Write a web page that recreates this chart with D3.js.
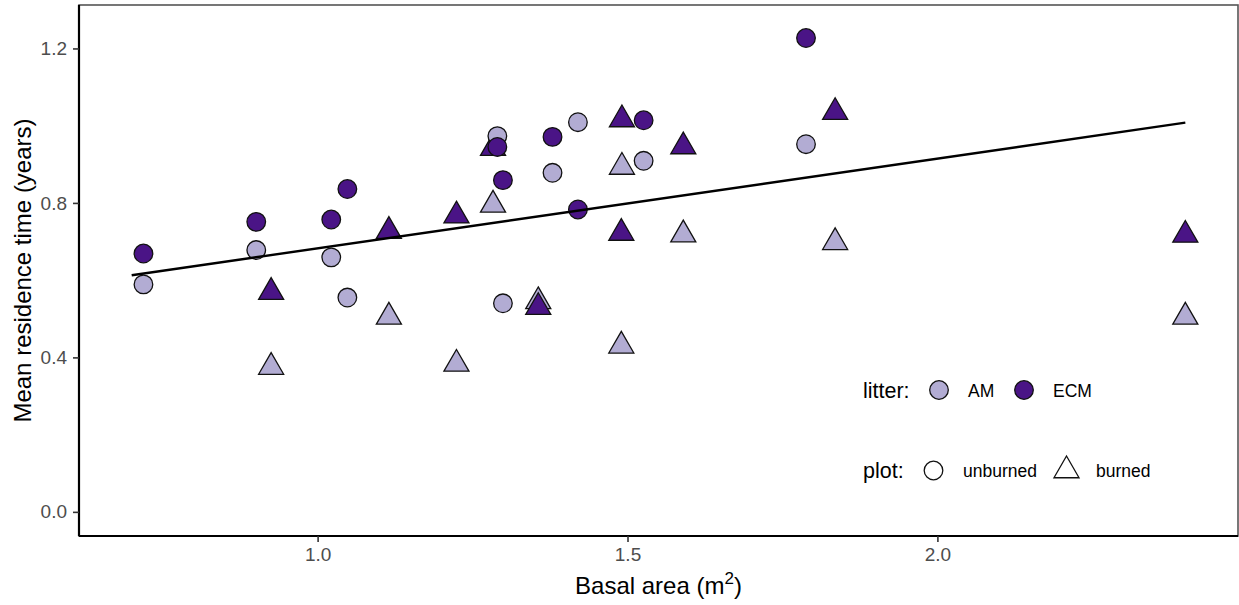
<!DOCTYPE html>
<html>
<head>
<meta charset="utf-8">
<script src="https://cdn.jsdelivr.net/npm/d3@7/dist/d3.min.js"></script>
<style>
  html, body { margin: 0; padding: 0; background: #ffffff; }
  svg { display: block; font-family: "Liberation Sans", Arial, sans-serif; }
</style>
</head>
<body>
<svg id="chart" width="1239" height="605"></svg>
<script>
// Basal area (m^2) of each plot, with mean residence time (years) for AM and ECM litter
const basalUnburned = [0.719, 0.901, 1.022, 1.048, 1.290, 1.299, 1.379, 1.420, 1.526, 1.788];
const amUnburned    = [0.589, 0.678, 0.659, 0.555, 0.973, 0.540, 0.878, 1.009, 0.909, 0.952];
const ecmUnburned   = [0.669, 0.751, 0.757, 0.836, 0.945, 0.859, 0.971, 0.783, 1.014, 1.227];

const basalBurned = [0.925, 1.115, 1.224, 1.283, 1.356, 1.491, 1.490, 1.590, 1.835, 2.400];
const amBurned    = [0.375, 0.505, 0.383, 0.795, 0.545, 0.893, 0.430, 0.718, 0.698, 0.505];
const ecmBurned   = [0.569, 0.727, 0.767, 0.942, 0.530, 1.016, 0.722, 0.946, 1.035, 0.717];

// Linear fit across all plots
const fitIntercept = 0.450;
const fitSlope = 0.2324;
const fitRange = [0.70, 2.40];

const xTicks = [1.0, 1.5, 2.0];
const yTicks = [0.0, 0.4, 0.8, 1.2];

const litterLevels = ["AM", "ECM"];
const plotLevels = ["unburned", "burned"];
const litterColors = ["#b2acd3", "#4a1486"];

const svg = d3.select("#chart");
const panel = { left: 79, right: 1238, top: 5, bottom: 536 };

const x = d3.scaleLinear().domain([0.615, 2.485]).range([panel.left, panel.right]);
const y = d3.scaleLinear().domain([-0.0625, 1.3125]).range([panel.bottom, panel.top]);
const fill = d3.scaleOrdinal().domain(litterLevels).range(litterColors);

const R = 9.3;
function markPath(shape) {
  if (shape === "burned") {
    const r = 1.5551 * R, xc = 1.3468 * R, yc = 0.7776 * R;
    return `M0,${-r}L${xc},${yc}L${-xc},${yc}Z`;
  }
  return `M${-R},0A${R},${R} 0 1,0 ${R},0A${R},${R} 0 1,0 ${-R},0Z`;
}

// Build point table
const points = [];
basalBurned.forEach((b, i) => {
  points.push({ basal: b, mrt: amBurned[i], litter: "AM", plot: "burned" });
  points.push({ basal: b, mrt: ecmBurned[i], litter: "ECM", plot: "burned" });
});
basalUnburned.forEach((b, i) => {
  points.push({ basal: b, mrt: amUnburned[i], litter: "AM", plot: "unburned" });
  points.push({ basal: b, mrt: ecmUnburned[i], litter: "ECM", plot: "unburned" });
});

// Panel border (top/right)
svg.append("rect")
  .attr("x", panel.left).attr("y", panel.top)
  .attr("width", panel.right - panel.left).attr("height", panel.bottom - panel.top)
  .attr("fill", "none").attr("stroke", "#555555").attr("stroke-width", 1.6);

// Points
svg.append("g").selectAll("path")
  .data(points)
  .join("path")
  .attr("d", d => markPath(d.plot))
  .attr("transform", d => `translate(${x(d.basal)},${y(d.mrt)})`)
  .attr("fill", d => fill(d.litter))
  .attr("stroke", "#111111")
  .attr("stroke-width", 1.3);

// Fitted line
const line = d3.line().x(d => x(d)).y(d => y(fitIntercept + fitSlope * d));
svg.append("path")
  .attr("d", line(fitRange))
  .attr("fill", "none")
  .attr("stroke", "#000000")
  .attr("stroke-width", 2.4);

// Axes
const xAxis = svg.append("g")
  .attr("transform", `translate(0,${panel.bottom})`)
  .call(d3.axisBottom(x).tickValues(xTicks).tickFormat(d3.format(".1f")).tickSizeInner(6).tickSizeOuter(0).tickPadding(6));
const yAxis = svg.append("g")
  .attr("transform", `translate(${panel.left},0)`)
  .call(d3.axisLeft(y).tickValues(yTicks).tickFormat(d3.format(".1f")).tickSizeInner(6).tickSizeOuter(0).tickPadding(6));

[xAxis, yAxis].forEach(g => {
  g.select(".domain").attr("stroke", "#000000").attr("stroke-width", 2.2);
  g.selectAll(".tick line").attr("stroke", "#333333").attr("stroke-width", 1.6);
  g.selectAll(".tick text")
    .attr("fill", "#4d4d4d")
    .style("font-size", "19px")
    .style("font-family", "'Liberation Sans', Arial, sans-serif");
});
xAxis.select(".domain").attr("d", `M${panel.left},0H${panel.right}`);
yAxis.select(".domain").attr("d", `M0,${panel.top}V${panel.bottom}`);

// Axis titles
const xTitle = svg.append("text")
  .attr("x", (panel.left + panel.right) / 2)
  .attr("y", 594)
  .attr("text-anchor", "middle")
  .attr("fill", "#000000")
  .style("font-size", "24px");
xTitle.append("tspan").text("Basal area (m");
xTitle.append("tspan").attr("dy", -10).style("font-size", "17px").text("2");
xTitle.append("tspan").attr("dy", 10).text(")");

svg.append("text")
  .attr("transform", `translate(31,${(panel.top + panel.bottom) / 2}) rotate(-90)`)
  .attr("text-anchor", "middle")
  .attr("fill", "#000000")
  .style("font-size", "24px")
  .text("Mean residence time (years)");

// Legends
const legend = svg.append("g");
const rowFill = legend.append("g").attr("transform", "translate(863,390)");
rowFill.append("text").attr("x", 0).attr("y", 8).style("font-size", "21.5px").attr("fill", "#000").text("litter:");
const fillKeys = [{ key: "AM", cx: 76, tx: 105 }, { key: "ECM", cx: 161, tx: 190 }];
fillKeys.forEach(k => {
  rowFill.append("path")
    .attr("d", markPath("unburned"))
    .attr("transform", `translate(${k.cx},0)`)
    .attr("fill", fill(k.key))
    .attr("stroke", "#111111").attr("stroke-width", 1.3);
  rowFill.append("text").attr("x", k.tx).attr("y", 7).style("font-size", "17.5px").attr("fill", "#000").text(k.key);
});

const rowShape = legend.append("g").attr("transform", "translate(863,470.5)");
rowShape.append("text").attr("x", 0).attr("y", 7.5).style("font-size", "21.5px").attr("fill", "#000").text("plot:");
const shapeKeys = [{ key: "unburned", cx: 70.5, tx: 100 }, { key: "burned", cx: 203.5, tx: 233 }];
shapeKeys.forEach(k => {
  rowShape.append("path")
    .attr("d", markPath(k.key))
    .attr("transform", `translate(${k.cx},0)`)
    .attr("fill", "#ffffff")
    .attr("stroke", "#111111").attr("stroke-width", 1.3);
  rowShape.append("text").attr("x", k.tx).attr("y", 6.5).style("font-size", "17.5px").attr("fill", "#000").text(k.key);
});
</script>
</body>
</html>
